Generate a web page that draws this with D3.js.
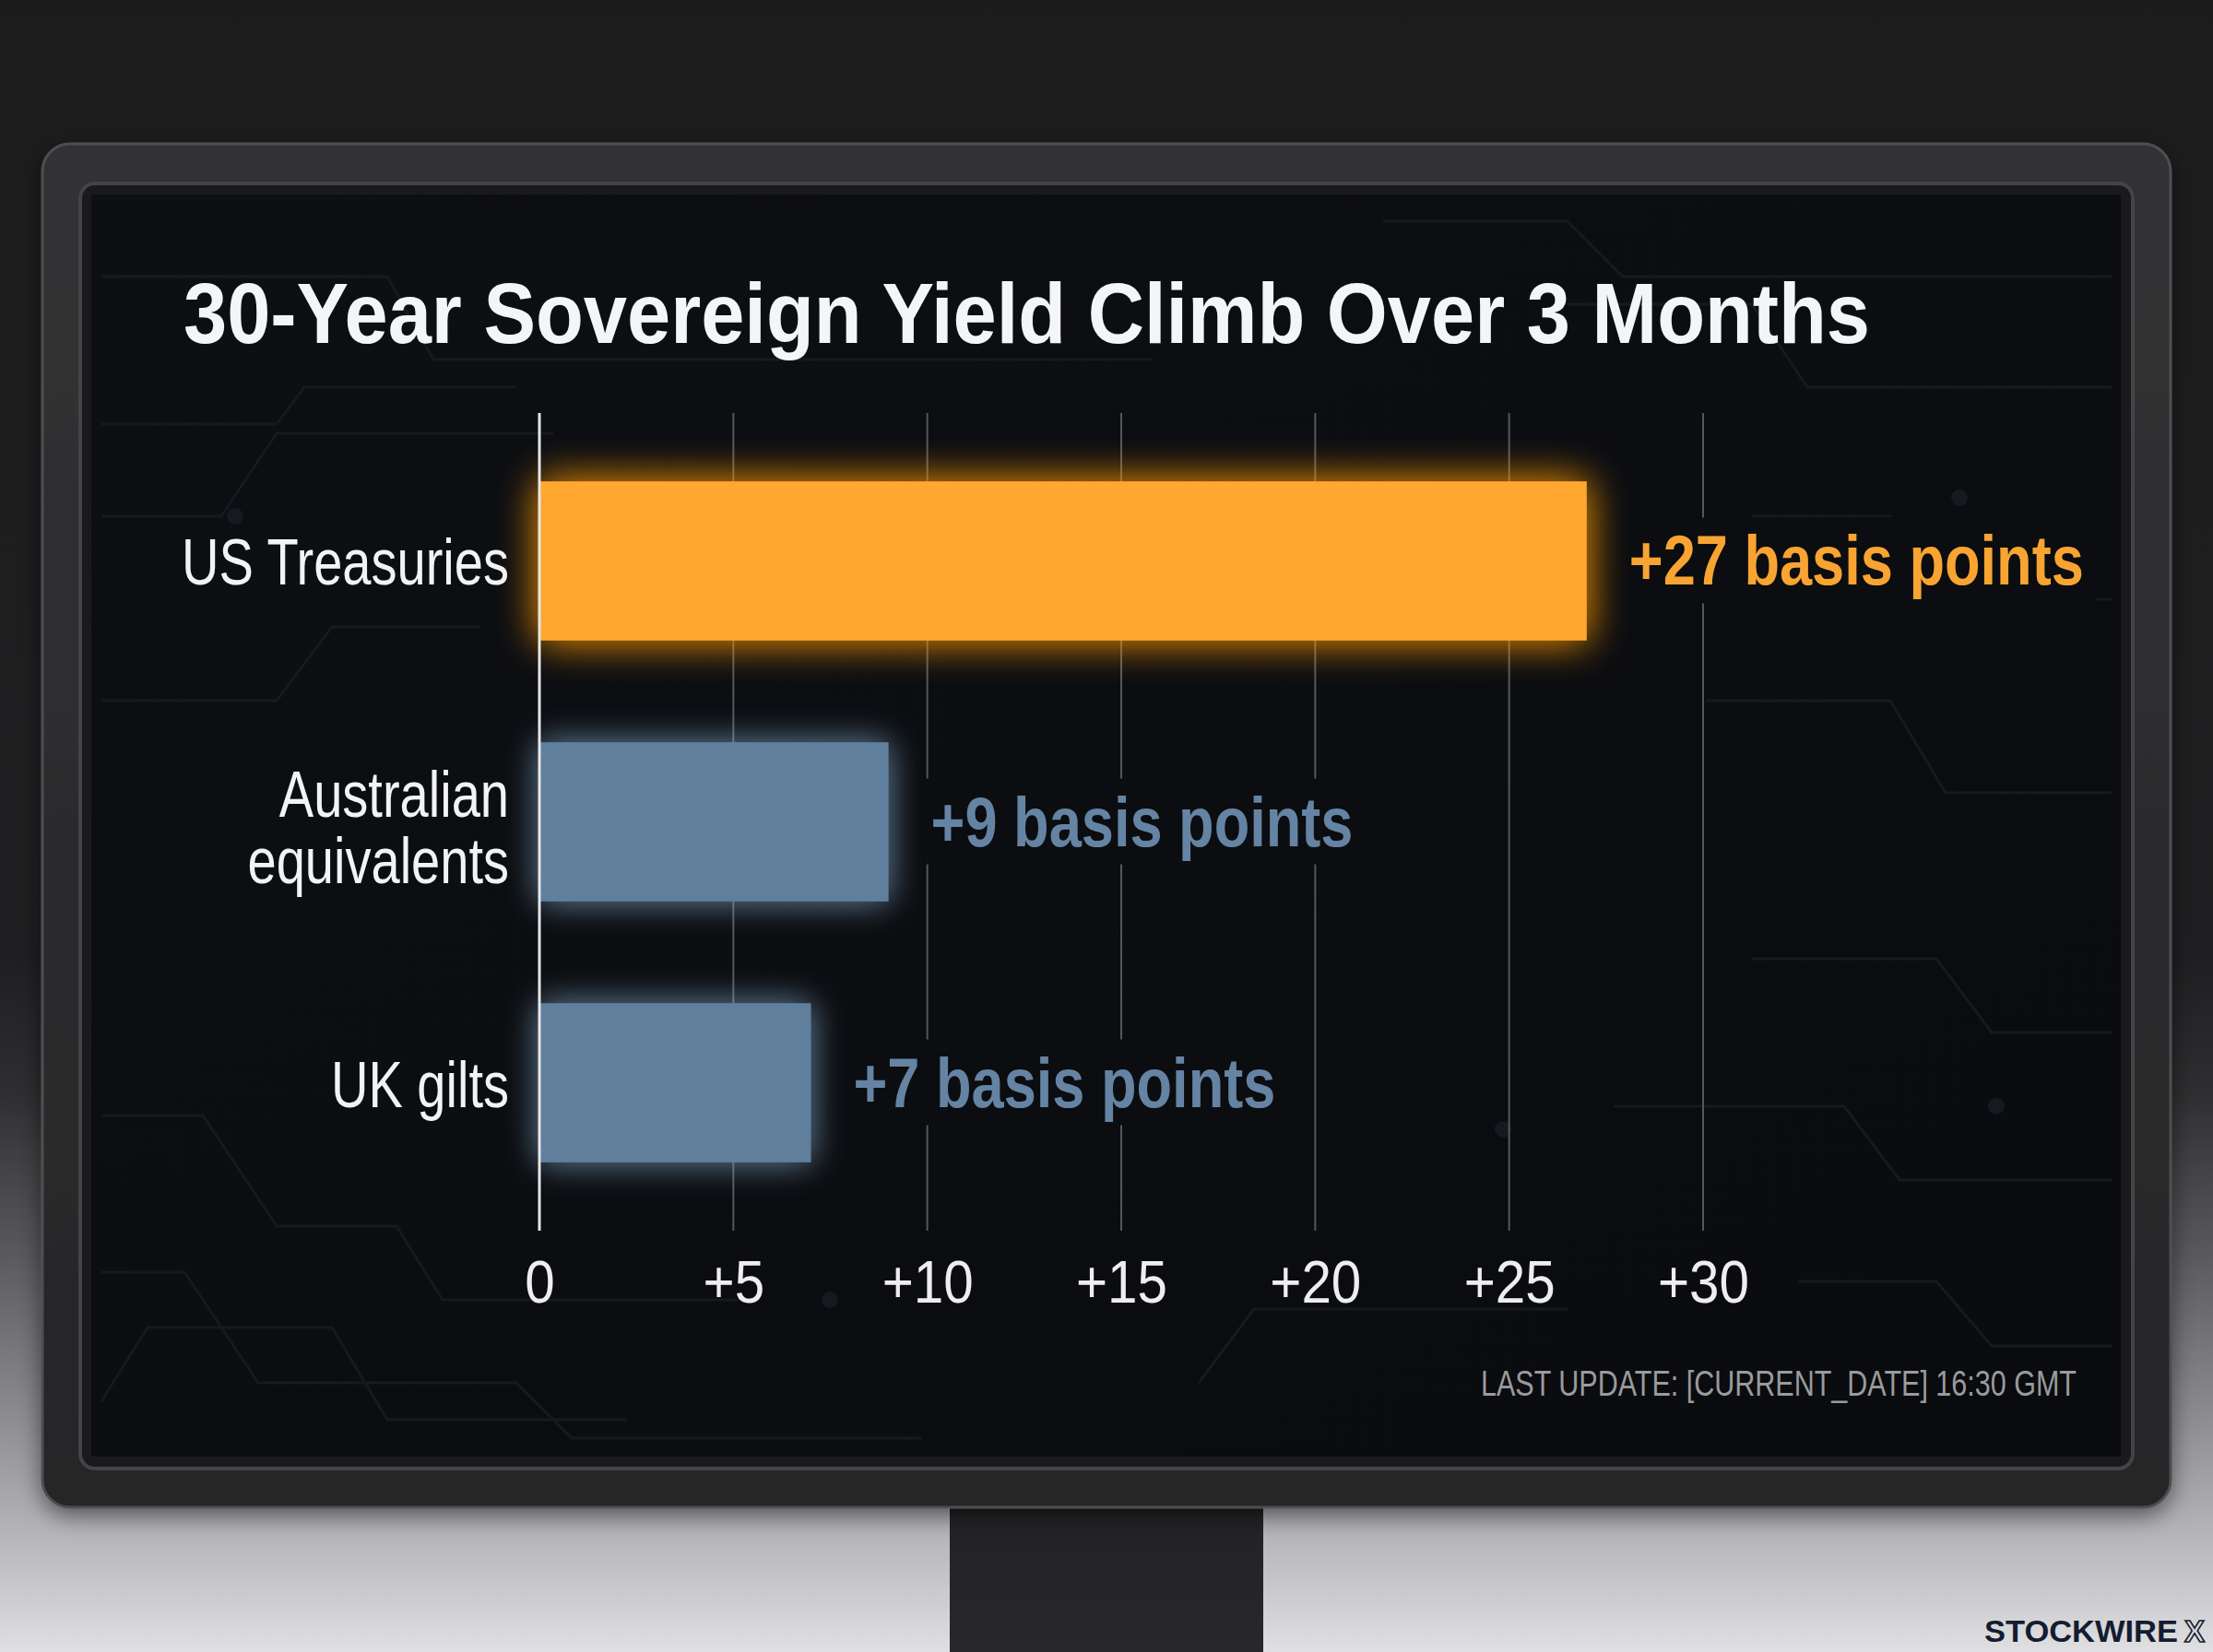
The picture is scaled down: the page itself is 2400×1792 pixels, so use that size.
<!DOCTYPE html>
<html>
<head>
<meta charset="utf-8">
<script src="https://cdn.jsdelivr.net/npm/d3@7"></script>
<style>
  html, body { margin: 0; padding: 0; background: #1c1c1d; }
  svg { display: block; }
</style>
</head>
<body>
<svg id="chart" width="2400" height="1792"></svg>
<script>
// ---------- data ----------
const categories = ["US Treasuries", "Australian equivalents", "UK gilts"];
const categoryLines = [["US Treasuries"], ["Australian", "equivalents"], ["UK gilts"]];
const values = [27, 9, 7];
const highlight = [true, false, false];
const tickValues = [0, 5, 10, 15, 20, 25, 30];
const tickLabels = ["0", "+5", "+10", "+15", "+20", "+25", "+30"];
const titleText = "30-Year Sovereign Yield Climb Over 3 Months";
const footnoteText = "LAST UPDATE: [CURRENT_DATE] 16:30 GMT";
const brandText = "STOCKWIRE";
const brandMark = "X";
const valueSuffix = " basis points";

// ---------- setup ----------
const W = 2400, H = 1792;
const svg = d3.select("#chart");
const defs = svg.append("defs");
const FONT = "'Liberation Sans', Arial, Helvetica, sans-serif";

// condense a text horizontally: to a target width, or by a factor
function condense(sel, k) {
  sel.each(function () {
    const w = this.getComputedTextLength();
    d3.select(this).attr("textLength", w * k).attr("lengthAdjust", "spacingAndGlyphs");
  });
}
function fitWidth(sel, target) {
  const w = sel.node().getComputedTextLength();
  return target / w;
}

// background gradient
const bg = defs.append("linearGradient").attr("id", "bgGrad").attr("x1", 0).attr("y1", 0).attr("x2", 0).attr("y2", 1);
[[0, "#1c1c1d"], [0.58, "#1f1f21"], [0.66, "#2e2e30"], [0.76, "#5a5a5e"], [0.86, "#8e8e92"], [0.93, "#b6b6ba"], [1, "#e0e0e2"]]
  .forEach(([o, c]) => bg.append("stop").attr("offset", o).attr("stop-color", c));

const bez = defs.append("linearGradient").attr("id", "bezGrad").attr("x1", 0).attr("y1", 0).attr("x2", 0).attr("y2", 1);
[[0, "#323235"], [1, "#262628"]].forEach(([o, c]) => bez.append("stop").attr("offset", o).attr("stop-color", c));

const scr = defs.append("linearGradient").attr("id", "scrGrad").attr("x1", 0).attr("y1", 0).attr("x2", 1).attr("y2", 1);
[[0, "#0d0f13"], [1, "#0a0b0e"]].forEach(([o, c]) => scr.append("stop").attr("offset", o).attr("stop-color", c));

const standG = defs.append("linearGradient").attr("id", "standGrad").attr("x1", 0).attr("y1", 0).attr("x2", 0).attr("y2", 1);
[[0, "#161618"], [0.15, "#232325"], [1, "#28282a"]].forEach(([o, c]) => standG.append("stop").attr("offset", o).attr("stop-color", c));

function glow(id, color, std, opacity) {
  const f = defs.append("filter").attr("id", id)
    .attr("x", "-40%").attr("y", "-80%").attr("width", "180%").attr("height", "260%");
  f.append("feGaussianBlur").attr("in", "SourceAlpha").attr("stdDeviation", std).attr("result", "blur");
  f.append("feFlood").attr("flood-color", color).attr("flood-opacity", opacity);
  f.append("feComposite").attr("in2", "blur").attr("operator", "in").attr("result", "glow");
  const m = f.append("feMerge");
  m.append("feMergeNode").attr("in", "glow");
  m.append("feMergeNode").attr("in", "glow");
  m.append("feMergeNode").attr("in", "SourceGraphic");
}
glow("glowOrange", "#ff9a10", 22, 0.6);
glow("glowBlue", "#8fb6dc", 18, 0.4);

const shadow = defs.append("filter").attr("id", "monShadow").attr("x", "-5%").attr("y", "-5%").attr("width", "110%").attr("height", "115%");
shadow.append("feDropShadow").attr("dx", 0).attr("dy", 8).attr("stdDeviation", 12).attr("flood-color", "#000").attr("flood-opacity", 0.5);

// ---------- scene ----------
svg.append("rect").attr("width", W).attr("height", H).attr("fill", "url(#bgGrad)");

// stand
svg.append("rect").attr("x", 1030).attr("y", 1620).attr("width", 340).attr("height", 180).attr("fill", "url(#standGrad)");

// bezel
svg.append("rect").attr("x", 46).attr("y", 156).attr("width", 2308).attr("height", 1479).attr("rx", 30)
  .attr("fill", "url(#bezGrad)").attr("stroke", "#4e4e52").attr("stroke-width", 3).attr("filter", "url(#monShadow)");
svg.append("rect").attr("x", 87).attr("y", 199).attr("width", 2226).attr("height", 1394).attr("rx", 16)
  .attr("fill", "#1a1a1c").attr("stroke", "#444448").attr("stroke-width", 4);
svg.append("rect").attr("x", 99).attr("y", 211).attr("width", 2201).attr("height", 1369)
  .attr("fill", "url(#scrGrad)");

// faint circuit decoration
const deco = svg.append("g").attr("fill", "none").attr("stroke", "#161a20").attr("stroke-width", 3);
const decoPaths = [
  "M110,300 L420,300 L470,390 L1250,390",
  "M110,460 L300,460 L330,420 L560,420",
  "M110,560 L240,560 L300,470 L600,470",
  "M110,760 L300,760 L360,680 L520,680",
  "M110,1210 L220,1210 L300,1330 L430,1330 L480,1410 L800,1410",
  "M110,1380 L200,1380 L280,1500 L560,1500 L620,1560 L1000,1560",
  "M110,1520 L160,1440 L360,1440 L420,1540 L680,1540",
  "M1300,1500 L1360,1420 L1700,1420",
  "M1500,240 L1700,240 L1760,300 L2290,300",
  "M1700,330 L1900,330 L1960,420 L2290,420",
  "M1900,560 L2050,560 L2110,650 L2290,650",
  "M1850,760 L2050,760 L2110,860 L2290,860",
  "M1900,1040 L2100,1040 L2160,1120 L2290,1120",
  "M1750,1200 L2000,1200 L2060,1280 L2290,1280",
  "M1950,1390 L2100,1390 L2160,1460 L2290,1460"
];
deco.selectAll("path").data(decoPaths).join("path").attr("d", d => d);
svg.append("g").attr("fill", "#161a20").selectAll("circle")
  .data([[255, 560], [2125, 540], [2165, 1200], [1630, 1225], [900, 1410]])
  .join("circle").attr("cx", d => d[0]).attr("cy", d => d[1]).attr("r", 9);

// ---------- chart ----------
const x = d3.scaleLinear().domain([0, 30]).range([585, 1847]);
const y = d3.scaleBand().domain(categories).range([448, 1335]).paddingInner(0.39).paddingOuter(0.262);
const gridTop = 448, gridBottom = 1335;

// title
const title = svg.append("text").attr("x", 199).attr("y", 372)
  .attr("font-family", FONT).attr("font-weight", 700).attr("font-size", 92)
  .attr("fill", "#f4f5f7").text(titleText);
title.attr("textLength", 1829).attr("lengthAdjust", "spacingAndGlyphs");

// gridlines
svg.append("g").selectAll("line").data(tickValues.filter(v => v !== 0)).join("line")
  .attr("x1", d => x(d)).attr("x2", d => x(d)).attr("y1", gridTop).attr("y2", gridBottom)
  .attr("stroke", "#55575b").attr("stroke-width", 2);

const labelG = svg.append("g");

// bars
const bars = svg.append("g");
bars.selectAll("rect").data(categories).join("rect")
  .attr("x", x(0)).attr("y", d => y(d))
  .attr("width", (d, i) => x(values[i]) - x(0)).attr("height", y.bandwidth())
  .attr("fill", (d, i) => highlight[i] ? "#ffa72d" : "#5f7f9d")
  .attr("filter", (d, i) => highlight[i] ? "url(#glowOrange)" : "url(#glowBlue)");

// zero line
svg.append("line").attr("x1", x(0)).attr("x2", x(0)).attr("y1", gridTop).attr("y2", gridBottom)
  .attr("stroke", "#e6e6e6").attr("stroke-width", 3);

// value labels
const valueTexts = labelG.selectAll("text.val").data(categories).join("text").attr("class", "val")
  .attr("x", (d, i) => x(values[i]) + 46).attr("y", d => y(d) + y.bandwidth() / 2 + 26)
  .attr("font-family", FONT).attr("font-weight", 700).attr("font-size", 76)
  .attr("fill", (d, i) => highlight[i] ? "#f8a432" : "#6583a3")
  .text((d, i) => "+" + values[i] + valueSuffix);
const kVal = fitWidth(valueTexts.filter((d, i) => i === 0), 493);
condense(valueTexts, kVal);
valueTexts.each(function () {
  const bb = this.getBBox();
  labelG.insert("rect", "text").attr("x", bb.x - 14).attr("y", bb.y - 4)
    .attr("width", bb.width + 28).attr("height", bb.height + 8).attr("fill", "#0b0d10");
});

// category labels
const catG = svg.append("g");
categories.forEach((c, i) => {
  const lines = categoryLines[i];
  const cy = y(c) + y.bandwidth() / 2;
  lines.forEach((ln, j) => {
    const off = (j - (lines.length - 1) / 2) * 72 + (lines.length > 1 ? 4 : 0);
    catG.append("text").attr("class", "cat").attr("x", 552).attr("y", cy + 26 + off)
      .attr("text-anchor", "end").attr("font-family", FONT).attr("font-weight", 400)
      .attr("font-size", 70).attr("fill", "#f2f3f5").text(ln);
  });
});
const catTexts = catG.selectAll("text.cat");
const kCat = fitWidth(catTexts.filter((d, i) => i === 0), 355);
condense(catTexts, kCat);

// x axis
const axis = d3.axisBottom(x).tickValues(tickValues).tickFormat((d, i) => tickLabels[i]).tickSize(0).tickPadding(0);
const axG = svg.append("g").attr("transform", "translate(0,1413)").call(axis);
axG.select(".domain").remove();
const tickTexts = axG.selectAll("text").attr("font-family", FONT).attr("font-size", 64).attr("fill", "#eeeeef")
  .attr("dy", 0).attr("y", 0);
const kTick = fitWidth(tickTexts.filter((d, i) => i === tickValues.length - 1), 99);
condense(tickTexts, kTick);

// footnote
svg.append("text").attr("x", 2252).attr("y", 1514).attr("text-anchor", "end")
  .attr("font-family", FONT).attr("font-size", 38).attr("fill", "#9a9b9d")
  .attr("textLength", 646).attr("lengthAdjust", "spacingAndGlyphs").text(footnoteText);

// brand
svg.append("text").attr("x", 2152).attr("y", 1781)
  .attr("font-family", FONT).attr("font-weight", 700).attr("font-size", 33)
  .attr("fill", "#141c30").attr("textLength", 210).attr("lengthAdjust", "spacingAndGlyphs").text(brandText);
svg.append("text").attr("x", 2369).attr("y", 1781)
  .attr("font-family", FONT).attr("font-weight", 700).attr("font-size", 33)
  .attr("fill", "none").attr("stroke", "#141c30").attr("stroke-width", 1.6).text(brandMark);
</script>
</body>
</html>
